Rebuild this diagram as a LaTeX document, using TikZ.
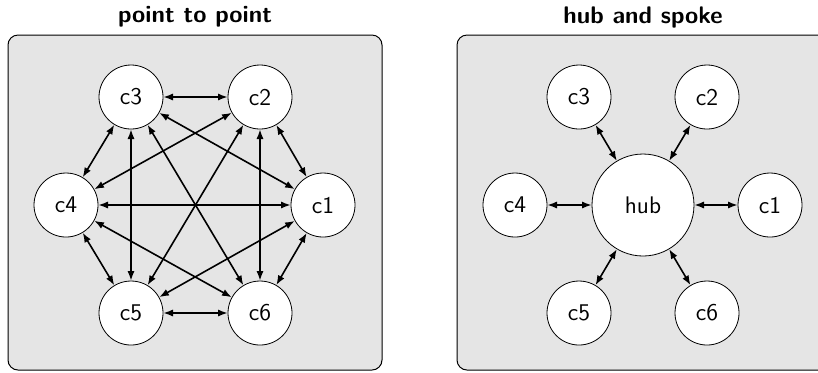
\documentclass[tikz,border=0pt]{standalone}
\usepackage{tikz}
\usetikzlibrary{arrows.meta}

\tikzset{
  panel/.style={draw,fill=black!10,rounded corners=5pt,line width=.5pt},
  client/.style={circle,draw,fill=white,minimum size=32pt,inner sep=0pt,font=\sffamily\large},
  link/.style={{Latex[length=4.8pt,width=3.6pt]}-{Latex[length=4.8pt,width=3.6pt]},line width=.8pt},
  heading/.style={font=\sffamily\bfseries\large}
}

\begin{document}
\begin{tikzpicture}[x=.5pt,y=-.5pt]
    \useasboundingbox (0,0) rectangle (818,372);
    % panels
    \draw[panel] (8,35) rectangle (382,370);
    \draw[panel] (457,35) rectangle (831,370);
    \node[heading] (ptitle) at (195,17) {point to point};
    \node[heading] (htitle) at (643,17) {hub and spoke};
    % point to point
    \foreach \n/\x/\y in {1/323/205,2/260/97,3/131/97,4/66/205,5/131/313,6/260/313}{
      \node[client] (p\n) at (\x,\y) {c\n};
    }
    \foreach \a in {1,...,6}{
      \foreach \b in {1,...,6}{
        \ifnum\a<\b \draw[link] (p\a) -- (p\b); \fi
      }
    }
    % hub and spoke
    \node[client,minimum size=51pt] (hub) at (643,205) {hub};
    \foreach \n/\x/\y in {1/770/205,2/707/97,3/579/97,4/515/205,5/579/313,6/707/313}{
      \node[client] (h\n) at (\x,\y) {c\n};
      \draw[link] (hub) -- (h\n);
    }
\end{tikzpicture}
\end{document}
